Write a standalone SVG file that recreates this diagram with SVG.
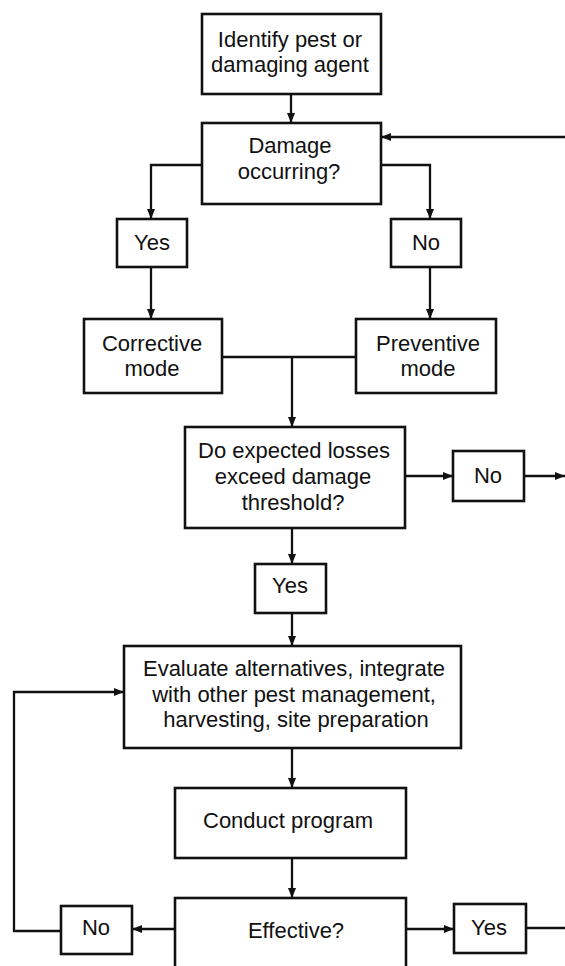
<svg xmlns="http://www.w3.org/2000/svg" width="565" height="966" viewBox="0 0 565 966">
<style>
.box{fill:#fff;stroke:#111;stroke-width:2.6}
.t{font-family:"Liberation Sans",Arial,sans-serif;font-size:22px;fill:#111;text-anchor:middle}
.c{fill:none;stroke:#111;stroke-width:2.3}
</style>
<defs>
<marker id="ah" markerUnits="userSpaceOnUse" markerWidth="10" markerHeight="8" refX="10" refY="4" orient="auto">
<path d="M0,0 L10,4 L0,8 z" fill="#111"/>
</marker>
</defs>
<rect width="565" height="966" fill="#fff"/>
<g id="connectors">
<path class="c" d="M291,94 V123" marker-end="url(#ah)"/>
<path class="c" d="M565,137 H381" marker-end="url(#ah)"/>
<path class="c" d="M202,165 H151 V219" marker-end="url(#ah)"/>
<path class="c" d="M381,165 H430 V219" marker-end="url(#ah)"/>
<path class="c" d="M151,267 V319" marker-end="url(#ah)"/>
<path class="c" d="M430,267 V319" marker-end="url(#ah)"/>
<path class="c" d="M222,357 H356"/>
<path class="c" d="M292,357 V427" marker-end="url(#ah)"/>
<path class="c" d="M405,476 H453" marker-end="url(#ah)"/>
<path class="c" d="M524,476 H565" marker-end="url(#ah)"/>
<path class="c" d="M292,528 V564" marker-end="url(#ah)"/>
<path class="c" d="M292,613 V646" marker-end="url(#ah)"/>
<path class="c" d="M292,748 V788" marker-end="url(#ah)"/>
<path class="c" d="M292,858 V898" marker-end="url(#ah)"/>
<path class="c" d="M175,929 H132" marker-end="url(#ah)"/>
<path class="c" d="M61,931 H14 V692 H124" marker-end="url(#ah)"/>
<path class="c" d="M406,929 H454" marker-end="url(#ah)"/>
<path class="c" d="M526,928 H565"/>
</g>
<g id="identify">
<rect class="box" x="202" y="14" width="179" height="80"/>
<text class="t" x="290" y="47">Identify pest or</text>
<text class="t" x="290" y="72">damaging agent</text>
</g>
<g id="damage">
<rect class="box" x="202" y="123" width="179" height="81"/>
<text class="t" x="290" y="153">Damage</text>
<text class="t" x="289" y="179">occurring?</text>
</g>
<g id="yes1">
<rect class="box" x="117" y="219" width="70" height="48"/>
<text class="t" x="152" y="250">Yes</text>
</g>
<g id="no1">
<rect class="box" x="391" y="219" width="70" height="48"/>
<text class="t" x="426" y="250">No</text>
</g>
<g id="corrective">
<rect class="box" x="84" y="319" width="138" height="74"/>
<text class="t" x="152" y="351">Corrective</text>
<text class="t" x="152" y="376">mode</text>
</g>
<g id="preventive">
<rect class="box" x="356" y="319" width="140" height="74"/>
<text class="t" x="428" y="351">Preventive</text>
<text class="t" x="428" y="376">mode</text>
</g>
<g id="threshold">
<rect class="box" x="185" y="427" width="220" height="101"/>
<text class="t" x="294" y="458">Do expected losses</text>
<text class="t" x="293" y="484">exceed damage</text>
<text class="t" x="293" y="510">threshold?</text>
</g>
<g id="no2">
<rect class="box" x="453" y="451" width="71" height="50"/>
<text class="t" x="488" y="483">No</text>
</g>
<g id="yes2">
<rect class="box" x="255" y="564" width="71" height="49"/>
<text class="t" x="290" y="593">Yes</text>
</g>
<g id="evaluate">
<rect class="box" x="124" y="646" width="337" height="102"/>
<text class="t" x="294" y="676">Evaluate alternatives, integrate</text>
<text class="t" x="294" y="702">with other pest management,</text>
<text class="t" x="296" y="727">harvesting, site preparation</text>
</g>
<g id="conduct">
<rect class="box" x="175" y="788" width="231" height="70"/>
<text class="t" x="288" y="828">Conduct program</text>
</g>
<g id="effective">
<rect class="box" x="175" y="898" width="231" height="90"/>
<text class="t" x="296" y="938">Effective?</text>
</g>
<g id="no3">
<rect class="box" x="61" y="906" width="71" height="48"/>
<text class="t" x="96" y="935">No</text>
</g>
<g id="yes3">
<rect class="box" x="454" y="904" width="72" height="49"/>
<text class="t" x="489" y="935">Yes</text>
</g>
</svg>
